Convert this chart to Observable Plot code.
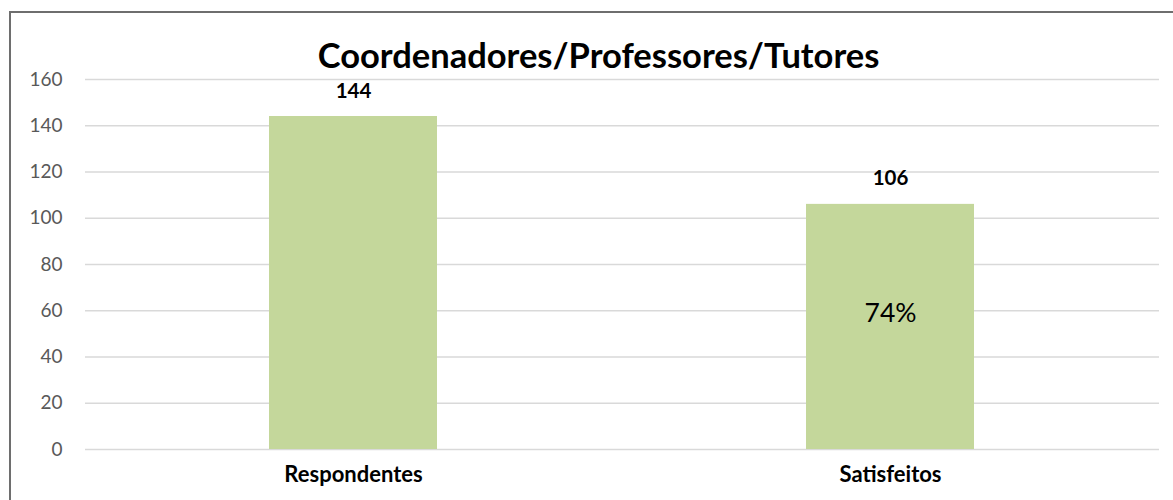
<!DOCTYPE html>
<html>
<head>
<meta charset="utf-8">
<script src="https://cdn.jsdelivr.net/npm/d3@7"></script>
<script src="https://cdn.jsdelivr.net/npm/@observablehq/plot@0.6"></script>
<style>
  html, body { margin: 0; padding: 0; background: #fff; }
  #wrap { position: relative; width: 1173px; height: 500px; overflow: hidden; }
  #frame { position: absolute; left: 9px; top: 11px; width: 1200px; height: 600px;
           border-left: 2px solid #6e6e6e; border-top: 2px solid #6e6e6e; pointer-events: none; }
</style>
</head>
<body>
<div id="wrap"><div id="frame"></div></div>
<script>
const title = "Coordenadores/Professores/Tutores";
const categories = ["Respondentes", "Satisfeitos"];
const values = [144, 106];
const insideLabels = ["", "74%"];
const yTicks = [0, 20, 40, 60, 80, 100, 120, 140, 160];

const data = categories.map((c, i) => ({cat: c, value: values[i], inside: insideLabels[i]}));
const font = "Lato, 'Open Sans', sans-serif";

const chart = Plot.plot({
  width: 1173,
  height: 500,
  marginTop: 79,
  marginBottom: 51,
  marginLeft: 85,
  marginRight: 14,
  style: {fontFamily: font, background: "transparent", overflow: "visible"},
  x: {domain: categories, paddingInner: 0.687, paddingOuter: 0.3435, label: null},
  y: {domain: [0, 160], label: null},
  marks: [
    Plot.ruleY(yTicks, {stroke: "#d9d9d9", strokeWidth: 1.5}),
    Plot.barY(data, {x: "cat", y: "value", fill: "#c4d79b"}),
    Plot.axisY({ticks: yTicks, tickSize: 0, tickPadding: 23, fontSize: 19, color: "#595959", label: null}),
    Plot.axisX({tickSize: 0, tickPadding: 17, fontSize: 22, fontWeight: "bold", color: "#000", label: null}),
    Plot.text(data, {x: "cat", y: "value", text: d => String(d.value), lineAnchor: "bottom", dy: -19, fontSize: 20.5, fontWeight: "bold", fill: "#000"}),
    Plot.text(data, {x: "cat", y: d => d.value / 2, text: "inside", fontSize: 26.5, fill: "#000", dy: -13}),
    Plot.text([title], {frameAnchor: "top", lineAnchor: "bottom", dy: -12, dx: -24, fontSize: 34.5, fontWeight: "bold", fill: "#000"})
  ]
});
chart.style.position = "absolute";
chart.style.left = "0px";
chart.style.top = "0px";
document.getElementById("wrap").insertBefore(chart, document.getElementById("frame"));
</script>
</body>
</html>
